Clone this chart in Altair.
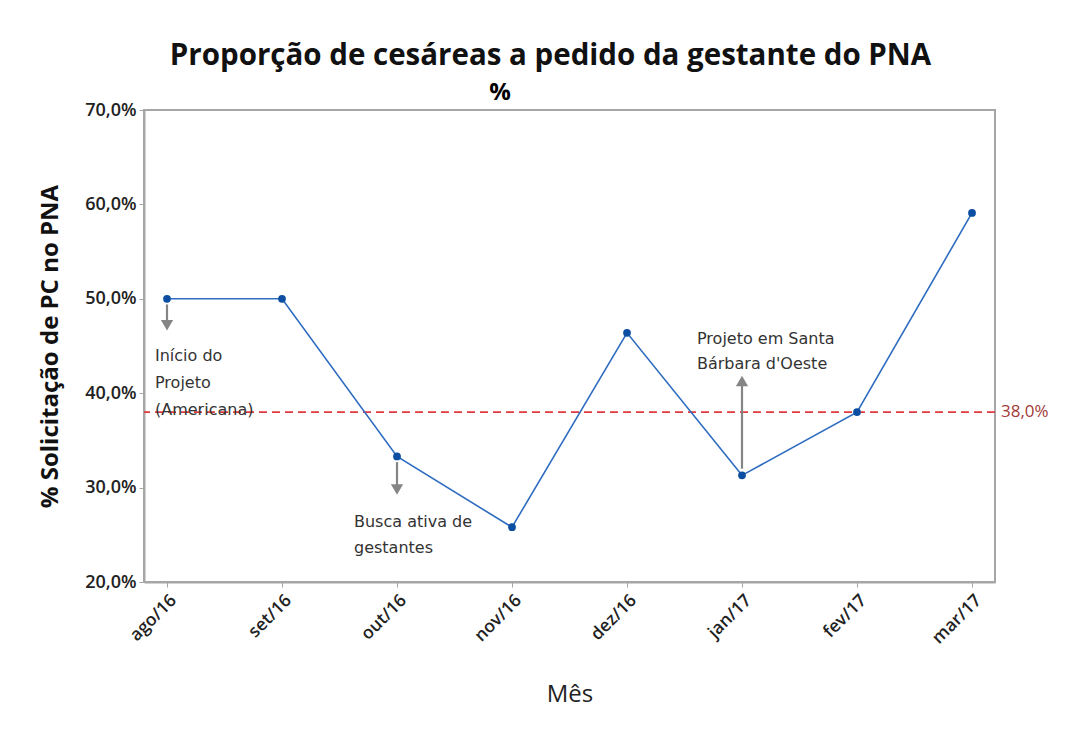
import altair as alt
import pandas as pd

# ---- data ----
months = ["ago/16", "set/16", "out/16", "nov/16", "dez/16", "jan/17", "fev/17", "mar/17"]
values = [50.0, 50.0, 33.3, 25.8, 46.4, 31.3, 38.0, 59.1]

ref_value = 38.0
ref_label = "38,0%"

# arrows: category, start value, head value, head shape
arrow_month = ["ago/16", "out/16", "jan/17"]
arrow_start = [49.4, 32.7, 32.0]
arrow_head = [47.2, 29.8, 41.3]
arrow_shape = ["triangle-down", "triangle-down", "triangle-up"]

# annotation text lines: category, value, horizontal shift
note_month = ["ago/16", "ago/16", "ago/16", "out/16", "out/16", "jan/17", "jan/17"]
note_value = [43.9, 41.1, 38.2, 26.4, 23.6, 45.7, 43.1]
note_text = ["Início do", "Projeto", "(Americana)", "Busca ativa de", "gestantes",
             "Projeto em Santa", "Bárbara d'Oeste"]
note_dx = [-12, -12, -12, -43, -43, -45, -45]

y_ticks = [20, 30, 40, 50, 60, 70]

df = pd.DataFrame({"Mês": months, "valor": values})
arrows = pd.DataFrame({"Mês": arrow_month, "start": arrow_start, "head": arrow_head,
                       "shape": arrow_shape})
notes = pd.DataFrame({"Mês": note_month, "valor": note_value, "texto": note_text, "dx": note_dx})
ref = pd.DataFrame({"valor": [ref_value], "label": [ref_label]})

W, H = 851, 472
FONT = "Open Sans"
NOTE_FONT = "DejaVu Sans"

x_enc = alt.X("Mês:N", sort=months,
              scale=alt.Scale(type="point", padding=0.2),
              axis=alt.Axis(title="Mês", labelAngle=-45, labelFontSize=17.5,
                            labelColor="#222222", labelFontWeight=600,
                            titleFontSize=24, titleFontWeight="normal", titleColor="#222222",
                            titlePadding=36, tickSize=5, tickColor="#a6a6a6",
                            domainColor="#a6a6a6", domainWidth=2, labelPadding=4,
                            grid=False))
y_scale = alt.Scale(domain=[20, 70], nice=False, zero=False)
y_axis = alt.Axis(title="% Solicitação de PC no PNA", values=y_ticks,
                  labelExpr="replace(format(datum.value, '.1f'), '.', ',') + '%'",
                  labelFontSize=18, labelColor="#222222", labelFontWeight=600,
                  titleFontSize=24, titleFontWeight="bold", titleColor="#111111",
                  titlePadding=22, tickSize=5, tickColor="#a6a6a6",
                  domainColor="#a6a6a6", domainWidth=2, labelPadding=3, grid=False)

base = alt.Chart(df)

line = base.mark_line(color="#2e6cc0", strokeWidth=1.6).encode(
    x=x_enc, y=alt.Y("valor:Q", scale=y_scale, axis=y_axis))
points = base.mark_circle(color="#0b4ea2", size=60, opacity=1).encode(
    x=alt.X("Mês:N", sort=months), y="valor:Q")

ref_rule = alt.Chart(ref).mark_rule(color="#e03a3e", strokeWidth=1.6,
                                    strokeDash=[8, 5]).encode(y="valor:Q")
ref_text = alt.Chart(ref).mark_text(color="#a23a3a", fontSize=17, align="left",
                                    baseline="middle", font=FONT).encode(
    x=alt.value(W + 6), y="valor:Q", text="label:N")

arrow_shaft = alt.Chart(arrows).mark_rule(color="#858585", strokeWidth=2.2).encode(
    x=alt.X("Mês:N", sort=months), y="start:Q", y2="head:Q")
arrow_heads = alt.Chart(arrows).mark_point(color="#858585", filled=True, size=150,
                                           opacity=1).encode(
    x=alt.X("Mês:N", sort=months), y="head:Q",
    shape=alt.Shape("shape:N", scale=None))

note_layers = []
for dxv in sorted(set(note_dx)):
    sub = notes[notes["dx"] == dxv]
    note_layers.append(
        alt.Chart(sub).mark_text(align="left", baseline="middle", fontSize=16,
                                 color="#333333", font=NOTE_FONT, dx=dxv).encode(
            x=alt.X("Mês:N", sort=months), y="valor:Q", text="texto:N"))

pct_text = alt.Chart(pd.DataFrame({"t": ["%"]})).mark_text(
    fontSize=24, fontWeight="bold", color="#000000", font=FONT,
    align="center", baseline="middle").encode(
    x=alt.value(500 - 144), y=alt.value(93 - 110), text="t:N")

chart = alt.layer(ref_rule, line, points, arrow_shaft, arrow_heads, *note_layers,
                  ref_text, pct_text).properties(
    width=W, height=H,
    title=alt.TitleParams("Proporção de cesáreas a pedido da gestante do PNA",
                          fontSize=29.5, fontWeight="bold", font=FONT, color="#111111",
                          anchor="middle", dx=-19, offset=10),
    autosize=alt.AutoSizeParams(type="none"),
    padding={"left": 136, "top": 102, "right": 80, "bottom": 130},
).configure_view(stroke="#a6a6a6", strokeWidth=2).configure_axis(
    labelFont=FONT, titleFont=FONT)

chart.save("out.html", embed_options={"renderer": "svg", "actions": False})
